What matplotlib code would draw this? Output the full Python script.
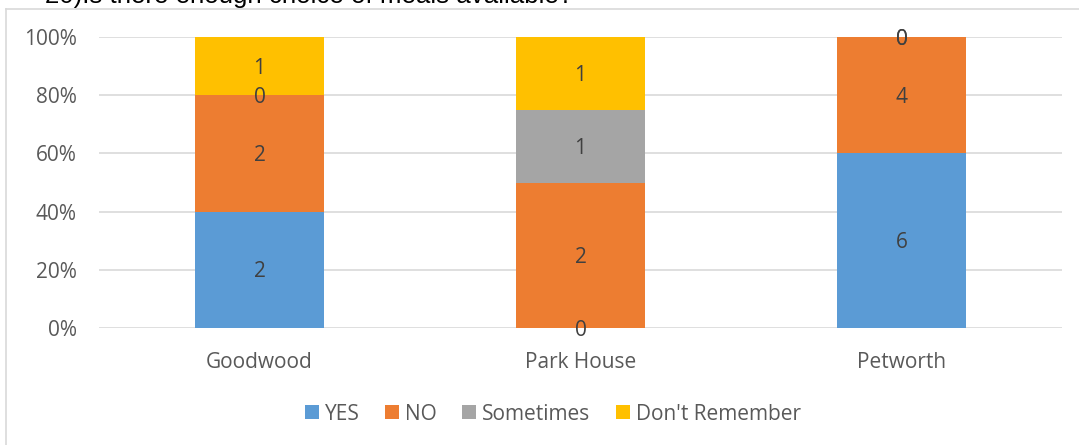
import matplotlib.pyplot as plt
import numpy as np
from matplotlib.lines import Line2D

plt.rcParams['font.family'] = ['Open Sans', 'DejaVu Sans']

sites = ['Goodwood', 'Park House', 'Petworth']
answers = ['YES', 'NO', 'Sometimes', "Don't Remember"]
counts = {
    'YES': [2, 0, 6],
    'NO': [2, 2, 4],
    'Sometimes': [0, 1, 0],
    "Don't Remember": [1, 1, 0],
}
colours = ['#5B9BD5', '#ED7D31', '#A5A5A5', '#FFC000']
title = '20)Is there enough choice of meals available?'

W, H = 1079, 445
fig = plt.figure(figsize=(W / 100, H / 100), dpi=100)
ax = fig.add_axes([99 / W, 1 - 328 / H, (1062 - 99) / W, (328 - 37) / H])

# frame of the chart area (only top and left edges fall inside the image)
fig.add_artist(Line2D([5.5 / W, 5.5 / W], [0, 1 - 8.5 / H], transform=fig.transFigure,
                      color='#D9D9D9', lw=1.2))
fig.add_artist(Line2D([5.5 / W, 1], [1 - 8.5 / H, 1 - 8.5 / H], transform=fig.transFigure,
                      color='#D9D9D9', lw=1.2))
fig.text(45 / W, 1 - 3 / H, title, fontsize=18.6, family='Liberation Sans',
         color='black', va='baseline', ha='left')

totals = np.sum([counts[a] for a in answers], axis=0)
x = np.arange(len(sites))
bottom = np.zeros(len(sites))
for a, c in zip(answers, colours):
    vals = np.array(counts[a], dtype=float)
    share = vals / totals
    ax.bar(x, share, 0.4, bottom=bottom, color=c, label=a, zorder=2)
    for xi, b, s, v in zip(x, bottom, share, vals):
        ax.annotate(f'{int(v)}', (xi, b + s / 2), xytext=(0, -1.5),
                    textcoords='offset points', ha='center', va='center',
                    fontsize=15, color='#404040', zorder=3)
    bottom += share

ax.set_xlim(-0.5, len(sites) - 0.5)
ax.set_ylim(0, 1)
ax.set_yticks(np.arange(0, 1.01, 0.2))
ax.set_yticklabels([f'{int(round(v * 100))}%' for v in np.arange(0, 1.01, 0.2)])
ax.set_xticks(x)
ax.set_xticklabels(sites)
ax.tick_params(axis='both', length=0, labelsize=15, labelcolor='#595959')
ax.tick_params(axis='y', pad=16)
ax.tick_params(axis='x', pad=17.5)
ax.yaxis.grid(True, color='#D9D9D9', lw=1.2, zorder=0)
ax.set_axisbelow(True)
for s in ax.spines.values():
    s.set_visible(False)

leg = fig.legend(loc='center', bbox_to_anchor=(553 / W, 1 - 414 / H), ncol=4,
                 frameon=False, fontsize=15, handlelength=0.67, handleheight=0.67,
                 handletextpad=0.3, columnspacing=1.2)
for t in leg.get_texts():
    t.set_color('#595959')

fig.savefig('out.png', dpi=100)
